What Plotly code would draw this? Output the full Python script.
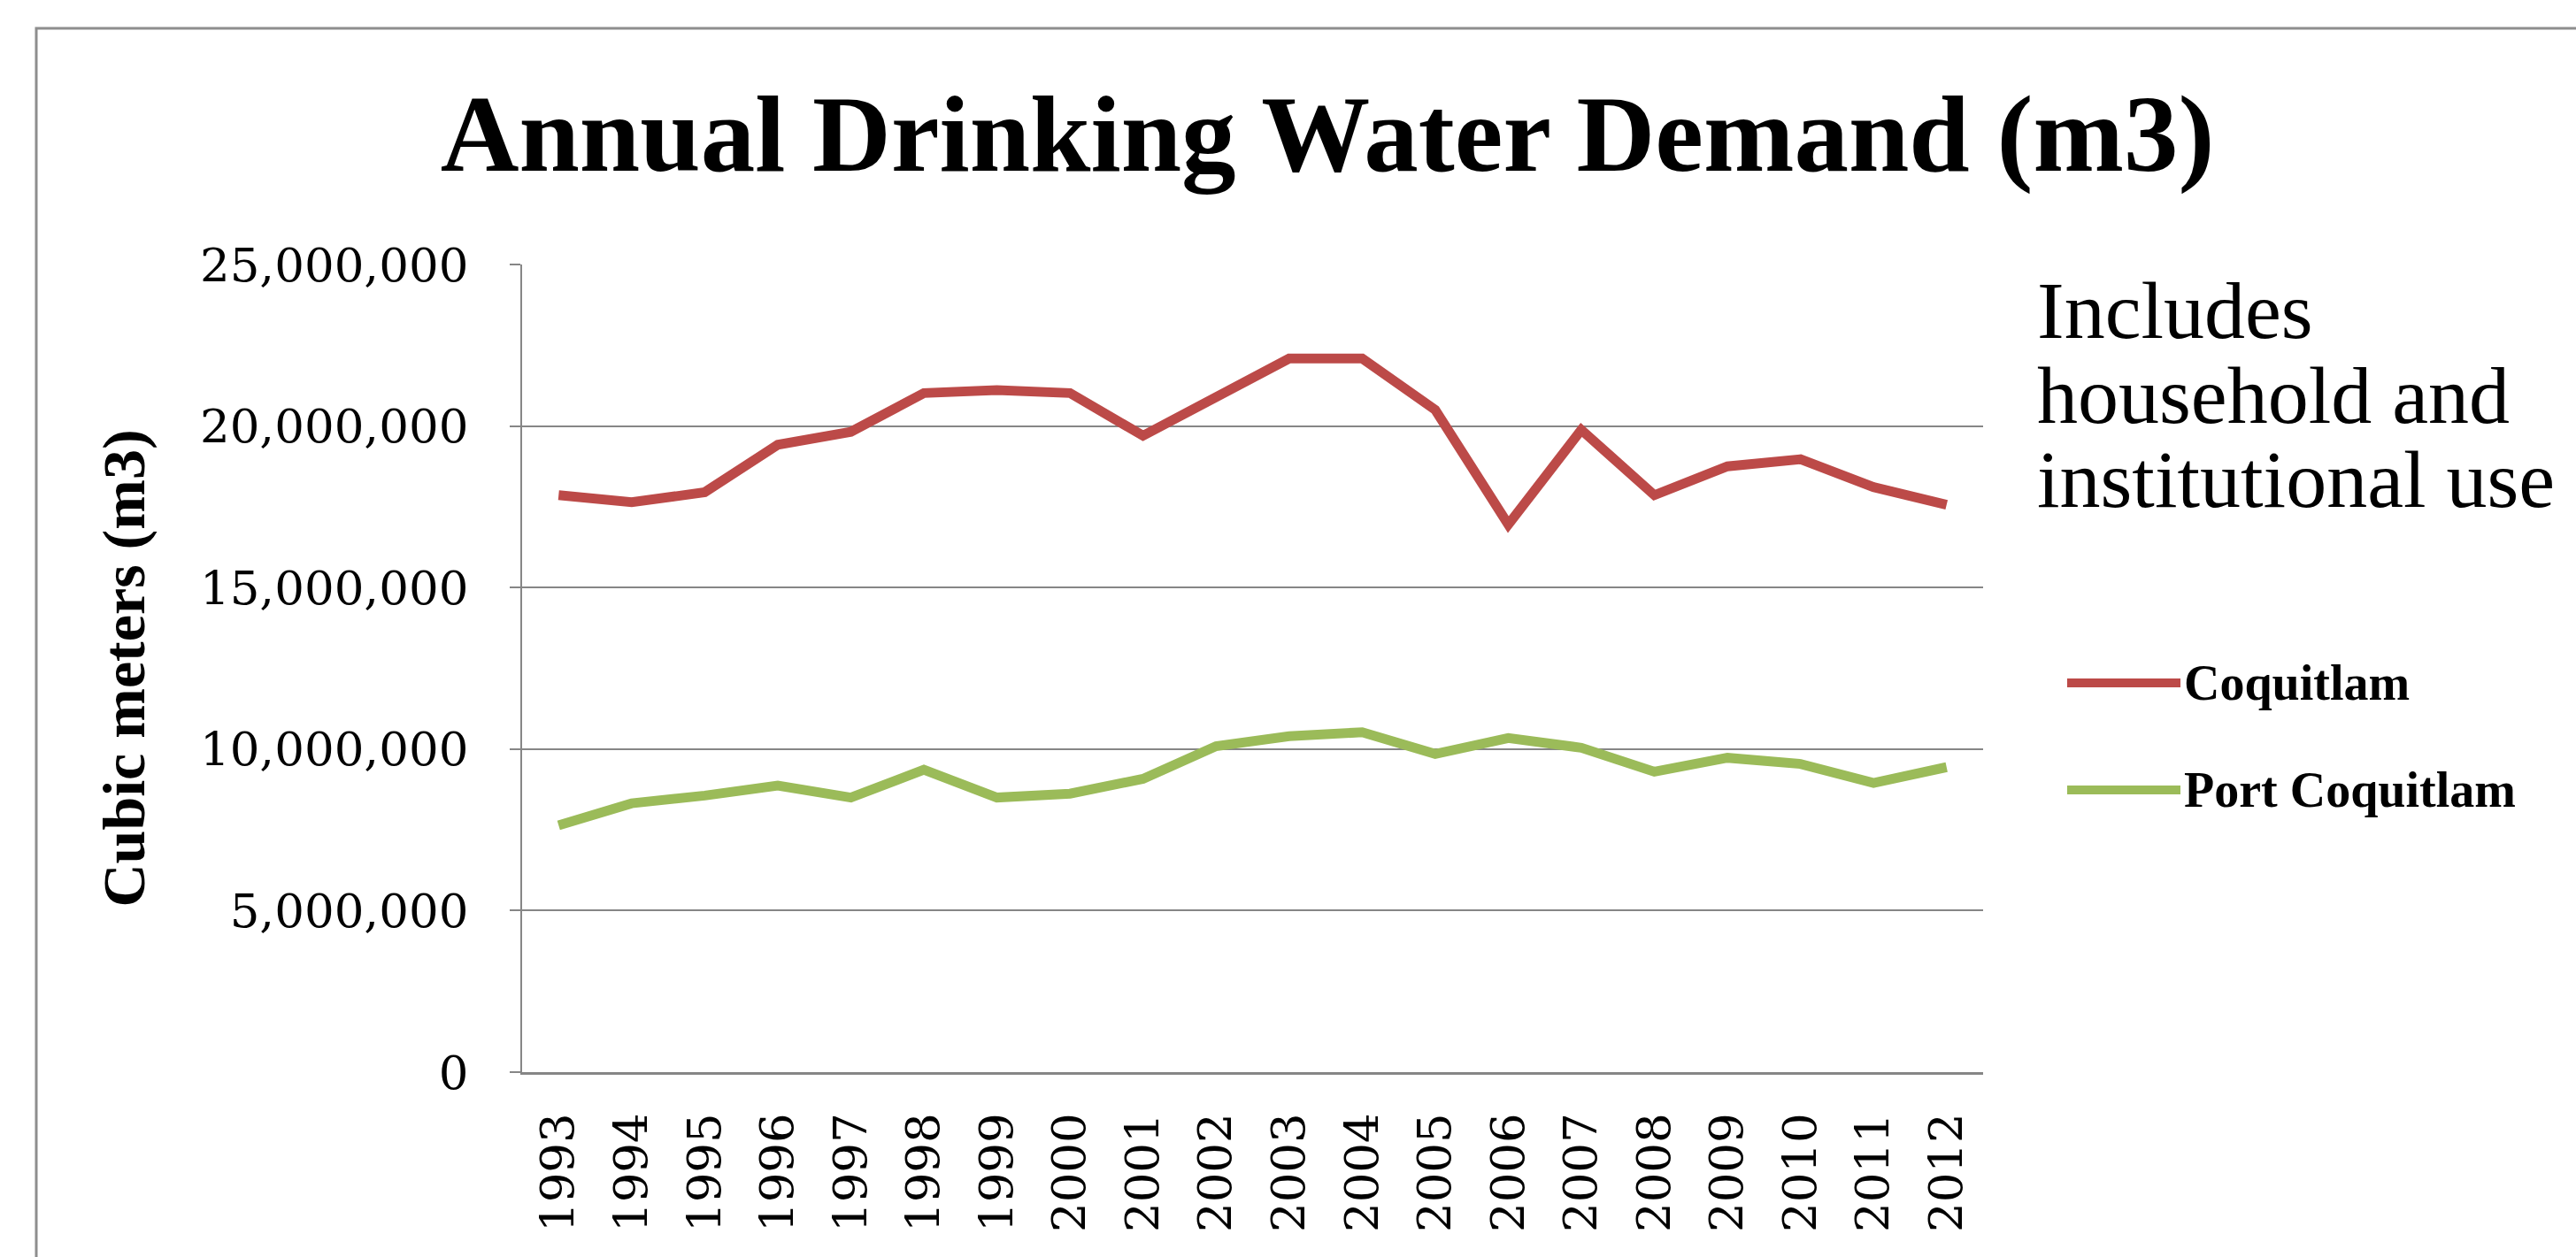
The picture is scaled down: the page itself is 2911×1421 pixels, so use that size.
import plotly.graph_objects as go

# Annual drinking water demand, cubic meters
years = [1993, 1994, 1995, 1996, 1997, 1998, 1999, 2000, 2001, 2002,
         2003, 2004, 2005, 2006, 2007, 2008, 2009, 2010, 2011, 2012]

coquitlam = [17860000, 17640000, 17950000, 19420000, 19820000, 21020000,
             21110000, 21020000, 19700000, 20920000, 22090000, 22090000,
             20500000, 16950000, 19880000, 17860000, 18750000, 18970000,
             18110000, 17560000]

port_coquitlam = [7640000, 8320000, 8560000, 8870000, 8500000, 9360000,
                  8500000, 8620000, 9080000, 10090000, 10400000, 10520000,
                  9850000, 10340000, 10040000, 9300000, 9730000, 9540000,
                  8950000, 9440000]

series_names = ["Coquitlam", "Port Coquitlam"]
series_values = [coquitlam, port_coquitlam]
series_colors = ["#BC4A48", "#9BBB59"]

y_ticks = [0, 5000000, 10000000, 15000000, 20000000, 25000000]

note_lines = ["Includes", "household and", "institutional use"]

W, H = 2911, 1421
L, R, T, B = 590, 2241, 299, 1212   # plot area edges in pixels


def px_x(px):
    return (px - L) / (R - L)


def px_y(py):
    return (B - py) / (B - T)


fig = go.Figure()
for name, vals, color in zip(series_names, series_values, series_colors):
    fig.add_trace(go.Scatter(
        x=years, y=vals, name=name, mode="lines",
        line=dict(color=color, width=11),
        showlegend=False,
    ))

grey = "#868686"
serif = "Liberation Serif"
num_serif = "DejaVu Serif"

fig.update_layout(
    width=W, height=H,
    margin=dict(l=L, r=W - R, t=T, b=H - B),
    paper_bgcolor="white", plot_bgcolor="white",
    title=dict(
        text="<b>Annual Drinking Water Demand (m3)</b>",
        font=dict(family=serif, size=123, color="black"),
        x=1500 / W, xref="container", xanchor="center",
        y=1 - 150 / H, yref="container", yanchor="middle",
    ),
    xaxis=dict(
        range=[1992.5, 2012.5],
        tickmode="array", tickvals=years, ticktext=[str(y) for y in years],
        tickangle=-90,
        tickfont=dict(family=num_serif, size=53, color="black"),
        ticklabelstandoff=22,
        showgrid=False, zeroline=False,
        showline=True, linecolor=grey, linewidth=3,
        ticks="",
    ),
    yaxis=dict(
        range=[0, 25000000],
        tickmode="array", tickvals=y_ticks,
        ticktext=[f"{v:,}" for v in y_ticks],
        tickfont=dict(family=num_serif, size=53, color="black"),
        ticks="outside", ticklen=12, tickcolor=grey, tickwidth=2,
        ticklabelstandoff=36,
        showgrid=True, gridcolor=grey, gridwidth=2,
        zeroline=False,
        showline=True, linecolor=grey, linewidth=2,
        title=dict(
            text="<b>Cubic meters (m3)</b>",
            font=dict(family=serif, size=68, color="black"),
            standoff=40,
        ),
    ),
)

# chart frame
fig.add_shape(type="rect", xref="paper", yref="paper",
              x0=px_x(41), x1=px_x(W + 20), y0=px_y(H + 20), y1=px_y(32),
              line=dict(color="#8E8E8E", width=3), fillcolor="rgba(0,0,0,0)",
              layer="below")

# note text
for i, line in enumerate(note_lines):
    fig.add_annotation(
        text=line, xref="paper", yref="paper",
        x=px_x(2300), y=px_y(351 + i * 95.5),
        xanchor="left", yanchor="middle", showarrow=False,
        font=dict(family=serif, size=92, color="black"),
    )

# legend keys
legend_y = [772, 893]
for name, color, ly in zip(series_names, series_colors, legend_y):
    fig.add_shape(type="line", xref="paper", yref="paper",
                  x0=px_x(2336), x1=px_x(2464), y0=px_y(ly), y1=px_y(ly),
                  line=dict(color=color, width=10))
    fig.add_annotation(
        text=f"<b>{name}</b>", xref="paper", yref="paper",
        x=px_x(2466), y=px_y(ly),
        xanchor="left", yanchor="middle", showarrow=False,
        font=dict(family=serif, size=56, color="black"),
    )

fig.write_html("out.html")
